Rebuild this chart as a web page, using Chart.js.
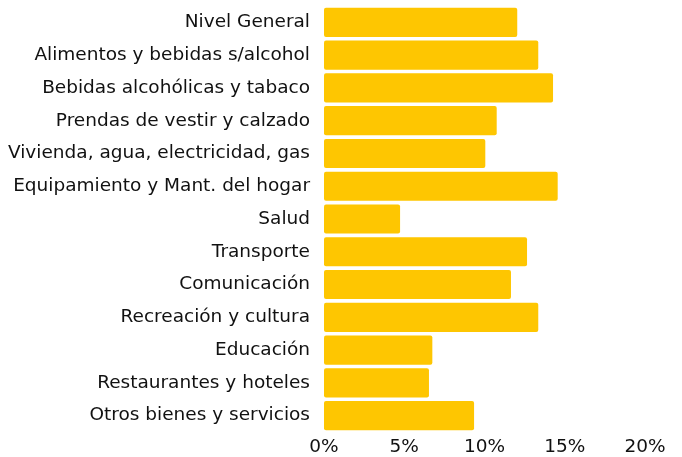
<!DOCTYPE html>
<html>
<head>
<meta charset="utf-8">
<script src="https://cdn.jsdelivr.net/npm/chart.js@4"></script>
<style>
html,body{margin:0;padding:0;background:#fff;}
#wrap{width:682px;height:457px;position:relative;}
</style>
</head>
<body>
<div id="wrap"><canvas id="c"></canvas></div>
<script>
const categories = [
  "Nivel General",
  "Alimentos y bebidas s/alcohol",
  "Bebidas alcohólicas y tabaco",
  "Prendas de vestir y calzado",
  "Vivienda, agua, electricidad, gas",
  "Equipamiento y Mant. del hogar",
  "Salud",
  "Transporte",
  "Comunicación",
  "Recreación y cultura",
  "Educación",
  "Restaurantes y hoteles",
  "Otros bienes y servicios"
];
const values = [12.04, 13.35, 14.27, 10.76, 10.05, 14.56, 4.74, 12.65, 11.65, 13.35, 6.75, 6.54, 9.35];
const tickValues = [0, 5, 10, 15, 20];

new Chart(document.getElementById('c'), {
  type: 'bar',
  data: {
    labels: categories,
    datasets: [{
      data: values,
      backgroundColor: '#FEC601',
      borderWidth: 0,
      borderRadius: 2,
      borderSkipped: false,
      categoryPercentage: 1,
      barPercentage: 0.89
    }]
  },
  options: {
    indexAxis: 'y',
    responsive: true,
    maintainAspectRatio: false,
    animation: false,
    layout: { padding: { top: 6, right: 37, bottom: 0, left: 0 } },
    plugins: { legend: { display: false }, tooltip: { enabled: false } },
    scales: {
      x: {
        min: 0, max: 20,
        afterBuildTicks: (s) => { s.ticks = tickValues.map(v => ({ value: v })); },
        afterFit: (s) => { s.height = 25; },
        grid: { display: false, drawTicks: false },
        border: { display: false },
        ticks: {
          padding: 4,
          color: '#111111',
          font: { family: 'DejaVu Sans', size: 18.5 },
          callback: (v) => v + '%'
        }
      },
      y: {
        afterFit: (s) => { s.width = 324; s.paddingTop = 0; s.paddingBottom = 0; },
        grid: { display: false, drawTicks: false },
        border: { display: false },
        ticks: {
          padding: 14,
          color: '#111111',
          font: { family: 'DejaVu Sans', size: 18.5 }
        }
      }
    }
  }
});
</script>
</body>
</html>
